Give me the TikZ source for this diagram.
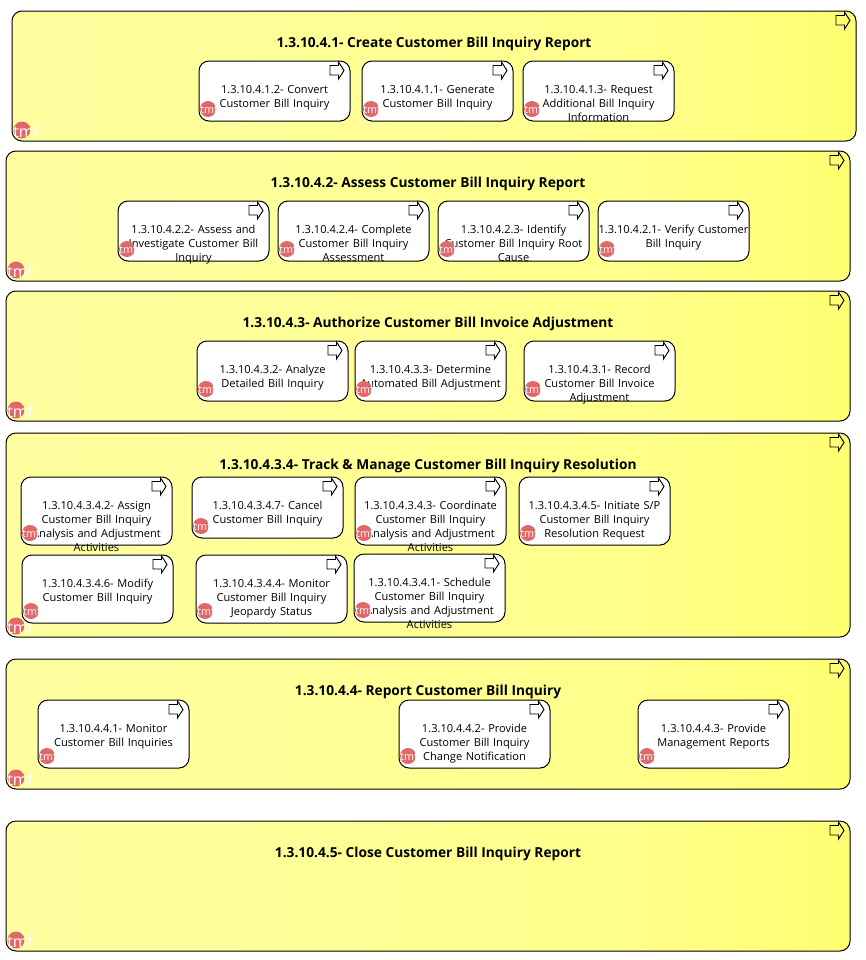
\documentclass[tikz,border=0pt]{standalone}
\usepackage{fontspec}
\setmainfont{Open Sans}
\usetikzlibrary{calc}
\definecolor{tmfRed}{HTML}{E06868}
\definecolor{grpA}{HTML}{FFFFA0}
\definecolor{grpB}{HTML}{FFFF9C}
\definecolor{grpC}{HTML}{FFFF8A}
\definecolor{grpD}{HTML}{FFFF72}
\pgfdeclarehorizontalshading{grpshadeb}{100bp}{
  color(0bp)=(grpA);
  color(25bp)=(grpA);
  color(37bp)=(grpB);
  color(62.5bp)=(grpC);
  color(75bp)=(grpD);
  color(100bp)=(grpD)}
\tikzset{
  x=0.75pt,y=-0.75pt,
  groupbox/.style={draw=black,line width=0.75pt,rounded corners=7.5pt,shading=grpshadeb},
  taskbox/.style={draw=black,line width=0.75pt,rounded corners=7.5pt,fill=white},
  grouptitle/.style={font=\fontsize{10.3}{12}\selectfont\bfseries,text=black,inner sep=0pt,anchor=base},
  tasklabel/.style={font=\fontsize{8.3}{10.5}\selectfont,text=black,inner sep=0pt,align=center,anchor=base,text width=170*0.75pt},
  arrowicon/.style={draw=black,line width=0.7pt,fill=none,line join=miter},
  tmfdot/.style={fill=tmfRed,draw=none},
  tmftextS/.style={font=\fontsize{8}{9}\selectfont,text=white,inner sep=0pt,anchor=base west},
  tmftextL/.style={font=\fontsize{12}{12}\selectfont,text=white,inner sep=0pt,anchor=base west},
}
\newcommand{\icon}[2]{% right edge x, top y
  \draw[arrowicon] (#1-20,#2+4.5) -- (#1-11.5,#2+4.5) -- (#1-11.5,#2+1) -- (#1-6,#2+9.5) -- (#1-11.5,#2+18) -- (#1-11.5,#2+14) -- (#1-20,#2+14) -- cycle;}
\newcommand{\groupBox}[6]{% name x1 y1 x2 y2 title
  \path[groupbox] (#2,#3) rectangle (#4,#5);
  \coordinate (#1c) at ({(#2+#4)/2},#3+36);
  \node[grouptitle] (#1) at (#1c) {#6};
  \icon{#4-0}{#3}
  \fill[tmfdot] (#2+10,#5-11) circle (8.5);
  \node[tmftextL] (#1t) at (#2+1,#5-4) {tmf};
}
\newcommand{\taskBox}[6]{% name x1 y1 x2 y2 text
  \path[taskbox] (#2,#3) rectangle (#4,#5);
  \coordinate (#1c) at ({(#2+#4)/2},#3+32.5);
  \node[tasklabel] (#1) at (#1c) {#6};
  \icon{#4}{#3}
  \fill[tmfdot] (#2+9,#5-12) circle (8);
  \node[tmftextS] (#1t) at (#2+1,#5-8) {tmf};
}
\begin{document}
\begin{tikzpicture}
\useasboundingbox[fill=white] (0,0) rectangle (865,960);
\groupBox{ga}{12}{11}{856}{141}{1.3.10.4.1- Create Customer Bill Inquiry Report}
\groupBox{gb}{6}{151}{850}{281}{1.3.10.4.2- Assess Customer Bill Inquiry Report}
\groupBox{gc}{6}{291}{850}{421}{1.3.10.4.3- Authorize Customer Bill Invoice Adjustment}
\groupBox{gd}{6}{433}{850}{637}{1.3.10.4.3.4- Track \& Manage Customer Bill Inquiry Resolution}
\groupBox{ge}{6}{659}{850}{789}{1.3.10.4.4- Report Customer Bill Inquiry}
\groupBox{gf}{6}{821}{850}{951}{1.3.10.4.5- Close Customer Bill Inquiry Report}

\taskBox{a1}{199}{61}{350}{121}{1.3.10.4.1.2- Convert\\Customer Bill Inquiry}
\taskBox{a2}{362}{61}{513}{121}{1.3.10.4.1.1- Generate\\Customer Bill Inquiry}
\taskBox{a3}{523}{61}{674}{121}{1.3.10.4.1.3- Request\\Additional Bill Inquiry\\Information}

\taskBox{b1}{118}{201}{269}{261}{1.3.10.4.2.2- Assess and\\Investigate Customer Bill\\Inquiry}
\taskBox{b2}{278}{201}{429}{261}{1.3.10.4.2.4- Complete\\Customer Bill Inquiry\\Assessment}
\taskBox{b3}{438}{201}{589}{261}{1.3.10.4.2.3- Identify\\Customer Bill Inquiry Root\\Cause}
\taskBox{b4}{598}{201}{749}{261}{1.3.10.4.2.1- Verify Customer\\Bill Inquiry}

\taskBox{c1}{197}{341}{348}{401}{1.3.10.4.3.2- Analyze\\Detailed Bill Inquiry}
\taskBox{c2}{355}{341}{506}{401}{1.3.10.4.3.3- Determine\\Automated Bill Adjustment}
\taskBox{c3}{524}{341}{675}{401}{1.3.10.4.3.1- Record\\Customer Bill Invoice\\Adjustment}

\taskBox{d1}{21}{477}{172}{545}{1.3.10.4.3.4.2- Assign\\Customer Bill Inquiry\\Analysis and Adjustment\\Activities}
\taskBox{d2}{192}{477}{343}{538}{1.3.10.4.3.4.7- Cancel\\Customer Bill Inquiry}
\taskBox{d3}{355}{477}{506}{545}{1.3.10.4.3.4.3- Coordinate\\Customer Bill Inquiry\\Analysis and Adjustment\\Activities}
\taskBox{d4}{519}{477}{670}{545}{1.3.10.4.3.4.5- Initiate S/P\\Customer Bill Inquiry\\Resolution Request}
\taskBox{d5}{22}{555}{173}{623}{1.3.10.4.3.4.6- Modify\\Customer Bill Inquiry}
\taskBox{d6}{196}{555}{347}{623}{1.3.10.4.3.4.4- Monitor\\Customer Bill Inquiry\\Jeopardy Status}
\taskBox{d7}{354}{554}{505}{622}{1.3.10.4.3.4.1- Schedule\\Customer Bill Inquiry\\Analysis and Adjustment\\Activities}

\taskBox{e1}{38}{700}{189}{768}{1.3.10.4.4.1- Monitor\\Customer Bill Inquiries}
\taskBox{e2}{399}{700}{550}{768}{1.3.10.4.4.2- Provide\\Customer Bill Inquiry\\Change Notification}
\taskBox{e3}{638}{700}{789}{768}{1.3.10.4.4.3- Provide\\Management Reports}
\end{tikzpicture}
\end{document}
